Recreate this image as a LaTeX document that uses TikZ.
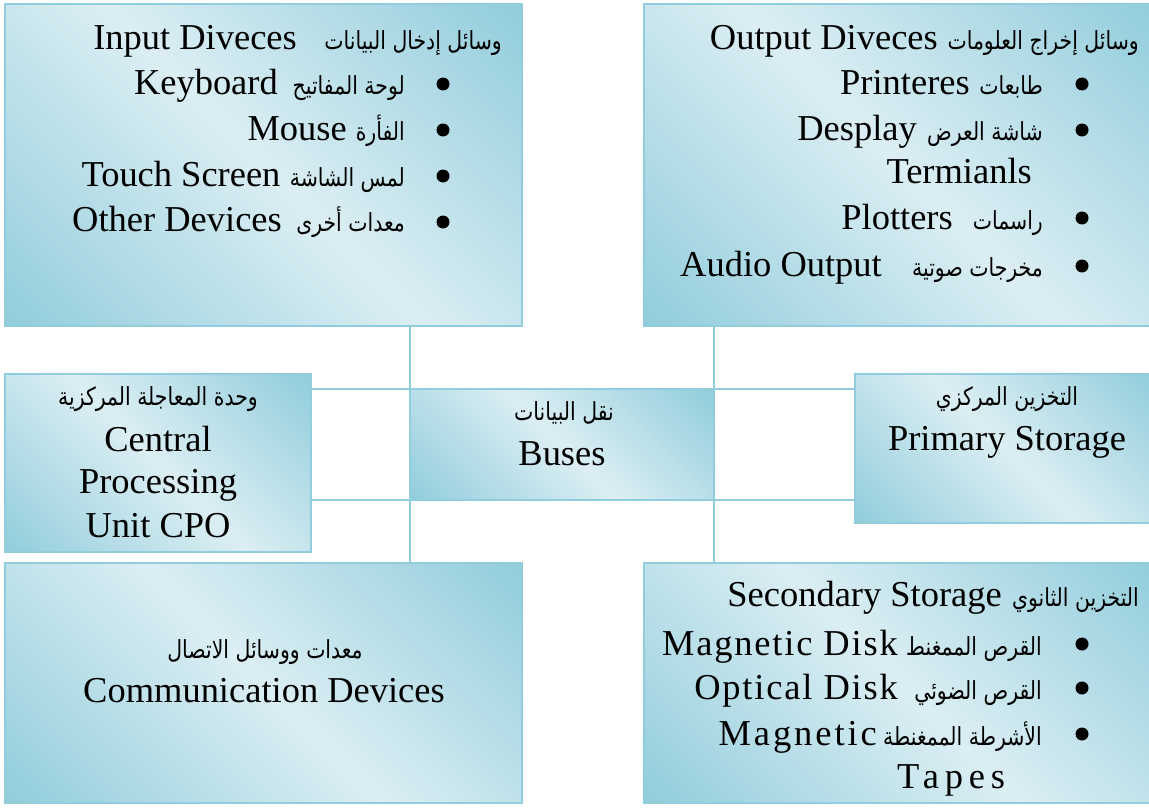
\documentclass[tikz,border=0pt]{standalone}
\usepackage{fontspec}
\setmainfont{Liberation Serif}
\newfontfamily\arabicfont[Script=Arabic, FakeStretch=0.82]{DejaVu Sans}
\TeXXeTstate=1
\definecolor{boxdark}{RGB}{146,205,220}
\definecolor{boxlight}{RGB}{219,238,243}
\definecolor{linkblue}{RGB}{146,205,221}
% dark - light - dark band, turned by 45 degrees on every panel
\pgfdeclarehorizontalshading{aquaband}{100bp}{color(0bp)=(boxdark); color(15bp)=(boxdark); color(50bp)=(boxlight); color(85bp)=(boxdark); color(100bp)=(boxdark)}
\tikzset{
  panel/.style={draw=linkblue, line width=2.5bp, shading=aquaband, shading angle=45,
                inner sep=0pt, outer sep=0pt, anchor=north west},
  link/.style={draw=linkblue, line width=2.5bp},
  entxt/.style={inner sep=0pt, font=\fontsize{36.6}{44}\selectfont},
  artxt/.style={inner sep=0pt, font=\arabicfont\fontsize{25}{29}\selectfont},
  dot/.style={circle, fill=black, inner sep=0pt, minimum size=13bp},
}
\begin{document}
\begin{tikzpicture}[x=1bp, y=-1bp]
\useasboundingbox (0,0) rectangle (1149,808);
\clip (0,0) rectangle (1149,808);

% panels
\node[panel, minimum width=517bp, minimum height=322bp] (input)   at (5,4)    {};
\node[panel, minimum width=515bp, minimum height=322bp] (output)  at (644,4)  {};
\node[panel, minimum width=306bp, minimum height=178bp] (cpu)     at (5,374)  {};
\node[panel, minimum width=304bp, minimum height=111bp] (bus)     at (410,389){};
\node[panel, minimum width=300bp, minimum height=149bp] (primary) at (855,374){};
\node[panel, minimum width=517bp, minimum height=240bp] (comm)    at (5,563)  {};
\node[panel, minimum width=515bp, minimum height=240bp] (second)  at (644,563){};

% bus lines
\draw[link] (input.south -| bus.west) -- (comm.north -| bus.west);
\draw[link] (output.south -| bus.east) -- (second.north -| bus.east);
\draw[link] (cpu.east |- bus.north) -- (primary.west |- bus.north);
\draw[link] (cpu.east |- bus.south) -- (primary.west |- bus.south);

% input devices
\node[entxt, anchor=base east] (inH)  at (297,50)  {Input Diveces};
\node[artxt, anchor=base east] (inHa) at (502,50)  {\beginR وسائل إدخال البيانات\endR};
\node[dot] (inB1) at (443,84)  {};
\node[dot] (inB2) at (443,130) {};
\node[dot] (inB3) at (443,176) {};
\node[dot] (inB4) at (443,222) {};
\node[artxt, anchor=base east] (in1a) at (405,95)  {\beginR لوحة المفاتيح\endR};
\node[entxt, anchor=base east] (in1)  at (278,95)  {Keyboard};
\node[artxt, anchor=base east] (in2a) at (405,140) {\beginR الفأرة\endR};
\node[entxt, anchor=base east] (in2)  at (347,140) {Mouse};
\node[artxt, anchor=base east] (in3a) at (405,186) {\beginR لمس الشاشة\endR};
\node[entxt, anchor=base east] (in3)  at ([xshift=-9bp]in3a.base west) {Touch Screen};
\node[artxt, anchor=base east] (in4a) at (405,231) {\beginR معدات أخرى\endR};
\node[entxt, anchor=base east] (in4)  at (282,231) {Other Devices};

% output devices
\node[entxt, anchor=base east] (outH)  at (938,50)  {Output Diveces};
\node[artxt, anchor=base east] (outHa) at (1139,50) {\beginR وسائل إخراج العلومات\endR};
\node[dot] (outB1) at (1082,84)  {};
\node[dot] (outB2) at (1082,130) {};
\node[dot] (outB3) at (1082,218) {};
\node[dot] (outB4) at (1082,266) {};
\node[artxt, anchor=base east] (out1a) at (1043,95)  {\beginR طابعات\endR};
\node[entxt, anchor=base east] (out1)  at (970,95)   {Printeres};
\node[artxt, anchor=base east] (out2a) at (1043,140) {\beginR شاشة العرض\endR};
\node[entxt, anchor=base east] (out2)  at (917,140)  {Desplay};
\node[entxt, anchor=base east] (out2b) at (1032,183) {Termianls};
\node[artxt, anchor=base east] (out3a) at (1043,229) {\beginR راسمات\endR};
\node[entxt, anchor=base east] (out3)  at (953,229)  {Plotters};
\node[artxt, anchor=base east] (out4a) at (1043,276) {\beginR مخرجات صوتية\endR};
\node[entxt, anchor=base east] (out4)  at (882,276)  {Audio Output};

% central processing unit
\node[artxt, anchor=base] (cpuA) at (158,405) {\beginR وحدة المعاجلة المركزية\endR};
\node[entxt, anchor=base] (cpu1) at (158,451) {Central};
\node[entxt, anchor=base] (cpu2) at (158,493) {Processing};
\node[entxt, anchor=base] (cpu3) at (158,537) {Unit CPO};

% buses
\node[artxt, anchor=base] (busA) at (564,420) {\beginR نقل البيانات\endR};
\node[entxt, anchor=base] (bus1) at (562,465) {Buses};

% primary storage
\node[artxt, anchor=base] (priA) at (1007,405) {\beginR التخزين المركزي\endR};
\node[entxt, anchor=base] (pri1) at (1007,450) {Primary Storage};

% communication devices
\node[artxt, anchor=base] (comA) at (265,658) {\beginR معدات ووسائل الاتصال\endR};
\node[entxt, anchor=base] (com1) at (264,702) {Communication Devices};

% secondary storage
\node[entxt, anchor=base east] (secH)  at (1002,606) {Secondary Storage};
\node[artxt, anchor=base east] (secHa) at (1139,606) {\beginR التخزين الثانوي\endR};
\node[dot] (secB1) at (1082,644) {};
\node[dot] (secB2) at (1082,688) {};
\node[dot] (secB3) at (1082,734) {};
\node[artxt, anchor=base east] (sec1a) at (1042,655) {\beginR القرص الممغنط\endR};
\node[entxt, anchor=base east] (sec1)  at ([xshift=-8bp]sec1a.base west) {\addfontfeature{LetterSpace=5}Magnetic Disk};
\node[artxt, anchor=base east] (sec2a) at (1042,699) {\beginR القرص الضوئي\endR};
\node[entxt, anchor=base east] (sec2)  at ([xshift=-16bp]sec2a.base west) {\addfontfeature{LetterSpace=5}Optical Disk};
\node[artxt, anchor=base east] (sec3a) at (1042,745) {\beginR الأشرطة الممغنطة\endR};
\node[entxt, anchor=base east] (sec3)  at ([xshift=-6bp]sec3a.base west) {\addfontfeature{LetterSpace=8}Magnetic};
\node[entxt, anchor=base west] (sec3b) at (897,788) {\addfontfeature{LetterSpace=16}Tapes};
\end{tikzpicture}
\end{document}
